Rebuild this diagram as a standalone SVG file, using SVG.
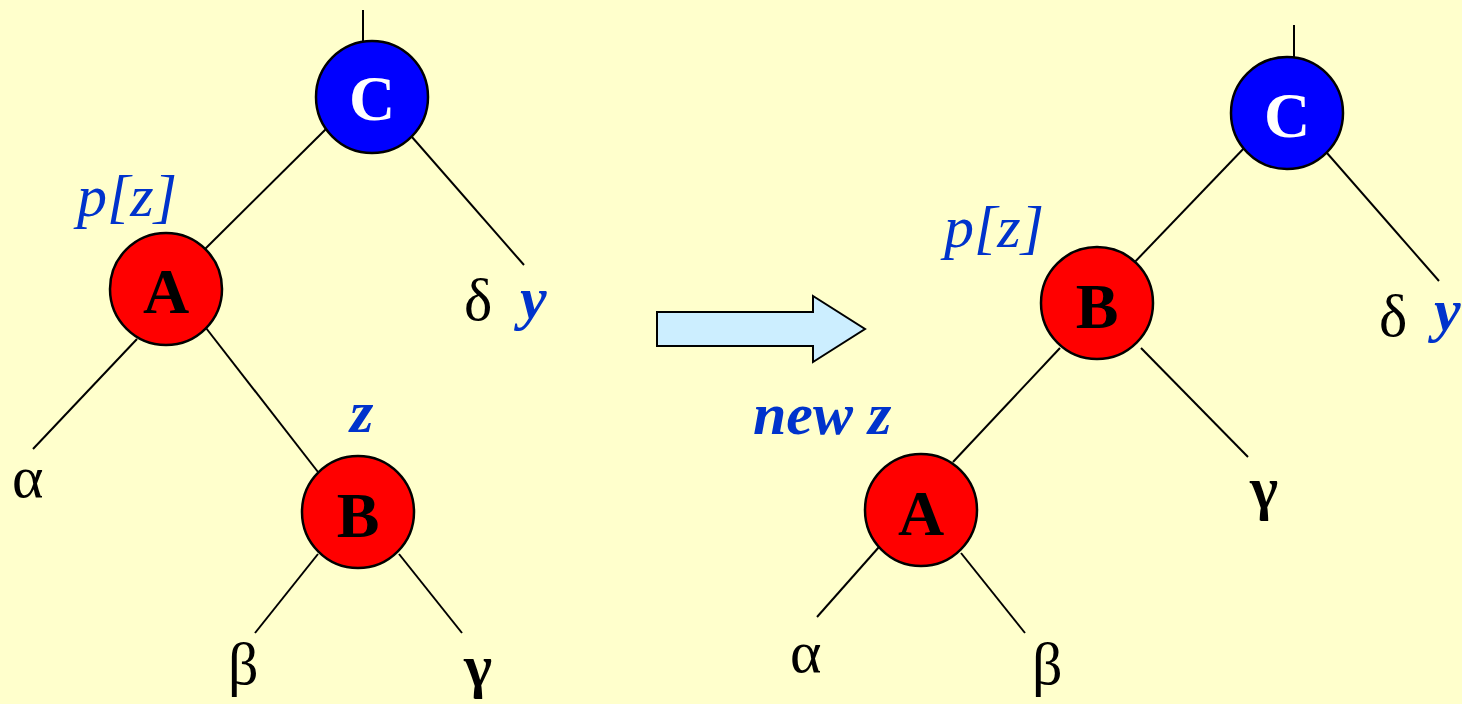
<svg xmlns="http://www.w3.org/2000/svg" width="1462" height="704" viewBox="0 0 1462 704" font-family="'Liberation Serif', 'Times New Roman', Times, 'DejaVu Serif', serif">
<style>
.bg{fill:#FFFFCC}
.edge{stroke:#000;stroke-width:2;fill:none}
.red{fill:#FF0000;stroke:#000;stroke-width:2.5}
.blue{fill:#0000FF;stroke:#000;stroke-width:2.5}
text{font-family:'Liberation Serif','Times New Roman',Times,serif}
.nt{font-weight:bold;font-size:64px;text-anchor:middle}
.gr{font-size:60px;fill:#000}
.lbl{font-style:italic;font-size:60px;fill:#0033CC}
.lblb{font-style:italic;font-weight:bold;font-size:60px;fill:#0033CC}
</style>
<rect class="bg" x="0" y="0" width="1462" height="704"/>
<g id="connectors">
<line class="edge" x1="363" y1="10" x2="363" y2="42"/>
<line class="edge" x1="328" y1="127" x2="203" y2="251"/>
<line class="edge" x1="412" y1="137" x2="524" y2="265"/>
<line class="edge" x1="137" y1="339" x2="33" y2="449"/>
<line class="edge" x1="206" y1="328" x2="318" y2="472"/>
<line class="edge" x1="318" y1="554" x2="255" y2="633"/>
<line class="edge" x1="399" y1="554" x2="462" y2="633"/>
<line class="edge" x1="1294" y1="25" x2="1294" y2="57"/>
<line class="edge" x1="1247" y1="145" x2="1130" y2="267"/>
<line class="edge" x1="1327" y1="153" x2="1439" y2="281"/>
<line class="edge" x1="1060" y1="348" x2="953" y2="462"/>
<line class="edge" x1="1141" y1="348" x2="1248" y2="457"/>
<line class="edge" x1="879" y1="547" x2="817" y2="617"/>
<line class="edge" x1="961" y1="553" x2="1025" y2="633"/>
</g>
<g id="arrow">
<polygon points="657,312 813,312 813,296 865,329 813,362 813,346 657,346" fill="#CCEEFF" stroke="#000" stroke-width="2"/>
</g>
<g id="left-C"><circle class="blue" cx="372" cy="97" r="56"/><text class="nt" x="372" y="120" fill="#FFFFFF">C</text></g>
<g id="left-A"><circle class="red" cx="166" cy="289" r="56"/><text class="nt" x="166" y="313" fill="#000">A</text></g>
<g id="left-B"><circle class="red" cx="358" cy="512" r="56"/><text class="nt" x="358" y="537" fill="#000">B</text></g>
<g id="right-C"><circle class="blue" cx="1287" cy="113" r="56"/><text class="nt" x="1287" y="137" fill="#FFFFFF">C</text></g>
<g id="right-B"><circle class="red" cx="1097" cy="303" r="56"/><text class="nt" x="1097" y="328" fill="#000">B</text></g>
<g id="right-A"><circle class="red" cx="921" cy="510" r="56"/><text class="nt" x="921" y="535" fill="#000">A</text></g>
<g id="labels">
<text class="lbl" x="77" y="216">p[z]</text>
<text class="gr" x="464" y="320">δ</text>
<text class="lblb" x="520" y="318">y</text>
<text class="gr" x="12" y="497">α</text>
<text class="lblb" x="350" y="432">z</text>
<text class="gr" x="228" y="684">β</text>
<text class="gr" x="464" y="686" font-weight="bold">γ</text>
<text class="lbl" x="944" y="247">p[z]</text>
<text class="gr" x="1379" y="336">δ</text>
<text class="lblb" x="1434" y="330">y</text>
<text class="lblb" x="753" y="434">new z</text>
<text class="gr" x="1250" y="508" font-weight="bold">γ</text>
<text class="gr" x="790" y="672">α</text>
<text class="gr" x="1032" y="684">β</text>
</g>
</svg>
